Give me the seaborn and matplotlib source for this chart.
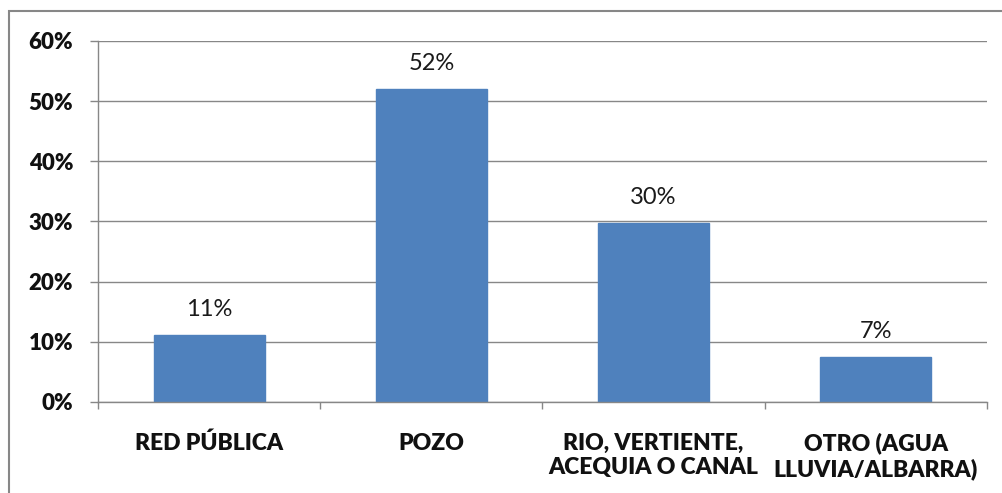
import matplotlib
matplotlib.use("Agg")
import matplotlib.pyplot as plt
import seaborn as sns
import pandas as pd
from matplotlib.patches import Rectangle
from matplotlib.ticker import FuncFormatter, MultipleLocator

categories = ["RED PÚBLICA", "POZO", "RIO, VERTIENTE,\nACEQUIA O CANAL", "OTRO (AGUA\nLLUVIA/ALBARRA)"]
values = [0.111, 0.520, 0.297, 0.074]
labels = ["11%", "52%", "30%", "7%"]

sns.set_theme(style="white")
plt.rcParams['font.family'] = ['Lato', 'DejaVu Sans']

df = pd.DataFrame({"cat": categories, "val": values})

W, H = 1003, 493
fig = plt.figure(figsize=(W / 100, H / 100), dpi=100)
ax = fig.add_axes([98 / W, 1 - 402 / H, (987 - 98) / W, (402 - 41) / H])

sns.barplot(data=df, x="cat", y="val", ax=ax, color="#4F81BD", width=0.5,
            saturation=1, edgecolor="#4F81BD")

ax.set_xlim(-0.5, len(categories) - 0.5)
ax.set_ylim(0, 0.6)
ax.yaxis.set_major_locator(MultipleLocator(0.1))
ax.yaxis.set_major_formatter(FuncFormatter(lambda v, p: f"{v*100:.0f}%"))
ax.grid(axis="y", color="#878787", linewidth=1)
ax.set_axisbelow(True)
ax.set_xlabel("")
ax.set_ylabel("")

for s in ["top", "right"]:
    ax.spines[s].set_visible(False)
for s in ["left", "bottom"]:
    ax.spines[s].set_color("#878787")
    ax.spines[s].set_linewidth(1)

ax.tick_params(axis="y", which="major", left=True, length=5.8, width=1, color="#878787",
               labelsize=16, pad=12, labelcolor="#111111")
for t in ax.get_yticklabels():
    t.set_fontweight("heavy")

ax.set_xticks(range(len(categories)))
ax.set_xticklabels(categories, fontsize=16.5, fontweight="heavy", linespacing=1.2,
                   color="#111111")
ax.tick_params(axis="x", which="major", bottom=False, pad=16)
ax.set_xticks([i - 0.5 for i in range(len(categories) + 1)], minor=True)
ax.tick_params(axis="x", which="minor", bottom=True, length=5, width=1, color="#878787")

for i, (v, lab) in enumerate(zip(values, labels)):
    ax.annotate(lab, (i, v), xytext=(0, 11), textcoords="offset points",
                ha="center", va="bottom", fontsize=17, color="#1a1a1a")

fig.patches.append(Rectangle((9 / W, -0.1), 1.2, 1 - 11 / H + 0.1,
                             transform=fig.transFigure, fill=False,
                             edgecolor="#878787", linewidth=1.5))

fig.savefig("out.png", dpi=100, facecolor="white")
